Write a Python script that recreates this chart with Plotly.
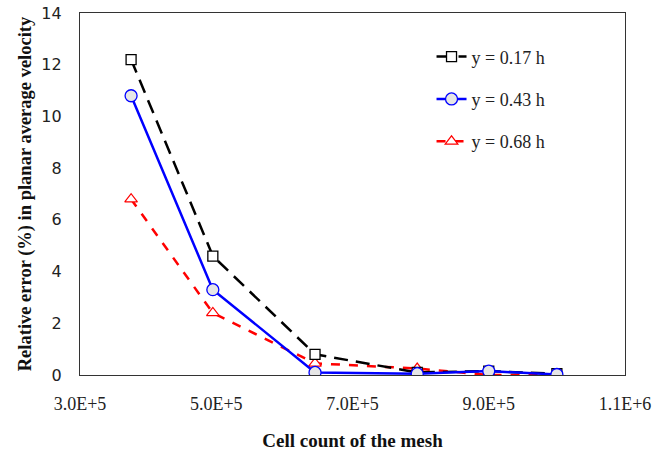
import plotly.graph_objects as go

cells = [3.75e5, 4.95e5, 6.45e5, 7.95e5, 9.0e5, 1.0e6]
err_017 = [12.2, 4.6, 0.8, 0.1, 0.15, 0.05]
err_043 = [10.8, 3.3, 0.1, 0.05, 0.15, 0.02]
err_068 = [6.8, 2.4, 0.45, 0.25, 0.0, 0.0]
names = ["y = 0.17 h", "y = 0.43 h", "y = 0.68 h"]
x_ticks = [3.0e5, 5.0e5, 7.0e5, 9.0e5, 1.1e6]
x_tick_text = ["3.0E+5", "5.0E+5", "7.0E+5", "9.0E+5", "1.1E+6"]
y_ticks = [0, 2, 4, 6, 8, 10, 12, 14]

fig = go.Figure()
fig.add_trace(go.Scatter(
    x=cells, y=err_068, name=names[2], mode="lines+markers", legendgroup="c",
    line=dict(color="#ff0000", width=2.5, dash="dash"),
    marker=dict(symbol="triangle-up", size=11, color="white",
                line=dict(color="#ff0000", width=1.2))))
fig.add_trace(go.Scatter(
    x=cells, y=err_017, name=names[0], mode="lines+markers", legendgroup="a",
    line=dict(color="black", width=2.5, dash="14px,8px"),
    marker=dict(symbol="square", size=10, color="white",
                line=dict(color="black", width=1.3))))
fig.add_trace(go.Scatter(
    x=cells, y=err_043, name=names[1], mode="lines+markers", legendgroup="b",
    line=dict(color="#0000ff", width=2.5),
    marker=dict(symbol="circle", size=12, color="#e6e6e6",
                line=dict(color="#0000ff", width=1.3))))

fig.data[0].legendrank = 3
fig.data[1].legendrank = 1
fig.data[2].legendrank = 2

fig.update_layout(
    width=668, height=454,
    margin=dict(l=80, r=43, t=13, b=79, autoexpand=False),
    paper_bgcolor="white", plot_bgcolor="white",
    showlegend=True,
    legend=dict(x=0.645, y=0.93, xanchor="left", yanchor="top",
                font=dict(family="Liberation Serif", size=18, color="#222"),
                traceorder="grouped", tracegroupgap=16,
                bgcolor="rgba(0,0,0,0)"),
    xaxis=dict(range=[3.0e5, 1.1e6], tickvals=x_ticks, ticktext=x_tick_text,
               automargin=False,
               showgrid=False, zeroline=False, showline=True, mirror=True,
               linecolor="#333", linewidth=1.2, ticks="", ticklabelstandoff=12,
               tickfont=dict(family="Liberation Serif", size=18, color="#222"),
               title=dict(text="<b>Cell count of the mesh</b>", standoff=20,
                          font=dict(family="Liberation Serif", size=19, color="#111"))),
    yaxis=dict(range=[0, 14], tickvals=y_ticks,
               automargin=False,
               showgrid=False, zeroline=False, showline=True, mirror=True,
               linecolor="#333", linewidth=1.2, ticks="", ticklabelstandoff=14,
               tickfont=dict(family="DejaVu Sans", size=16, color="#222"),
               title=dict(text="<b>Relative error (%) in planar average velocity</b>", standoff=4,
                          font=dict(family="Liberation Serif", size=18.5, color="#111"))),
)

fig.write_html("out.html", config={"displayModeBar": False},
               post_script="document.body.style.margin='0';")
